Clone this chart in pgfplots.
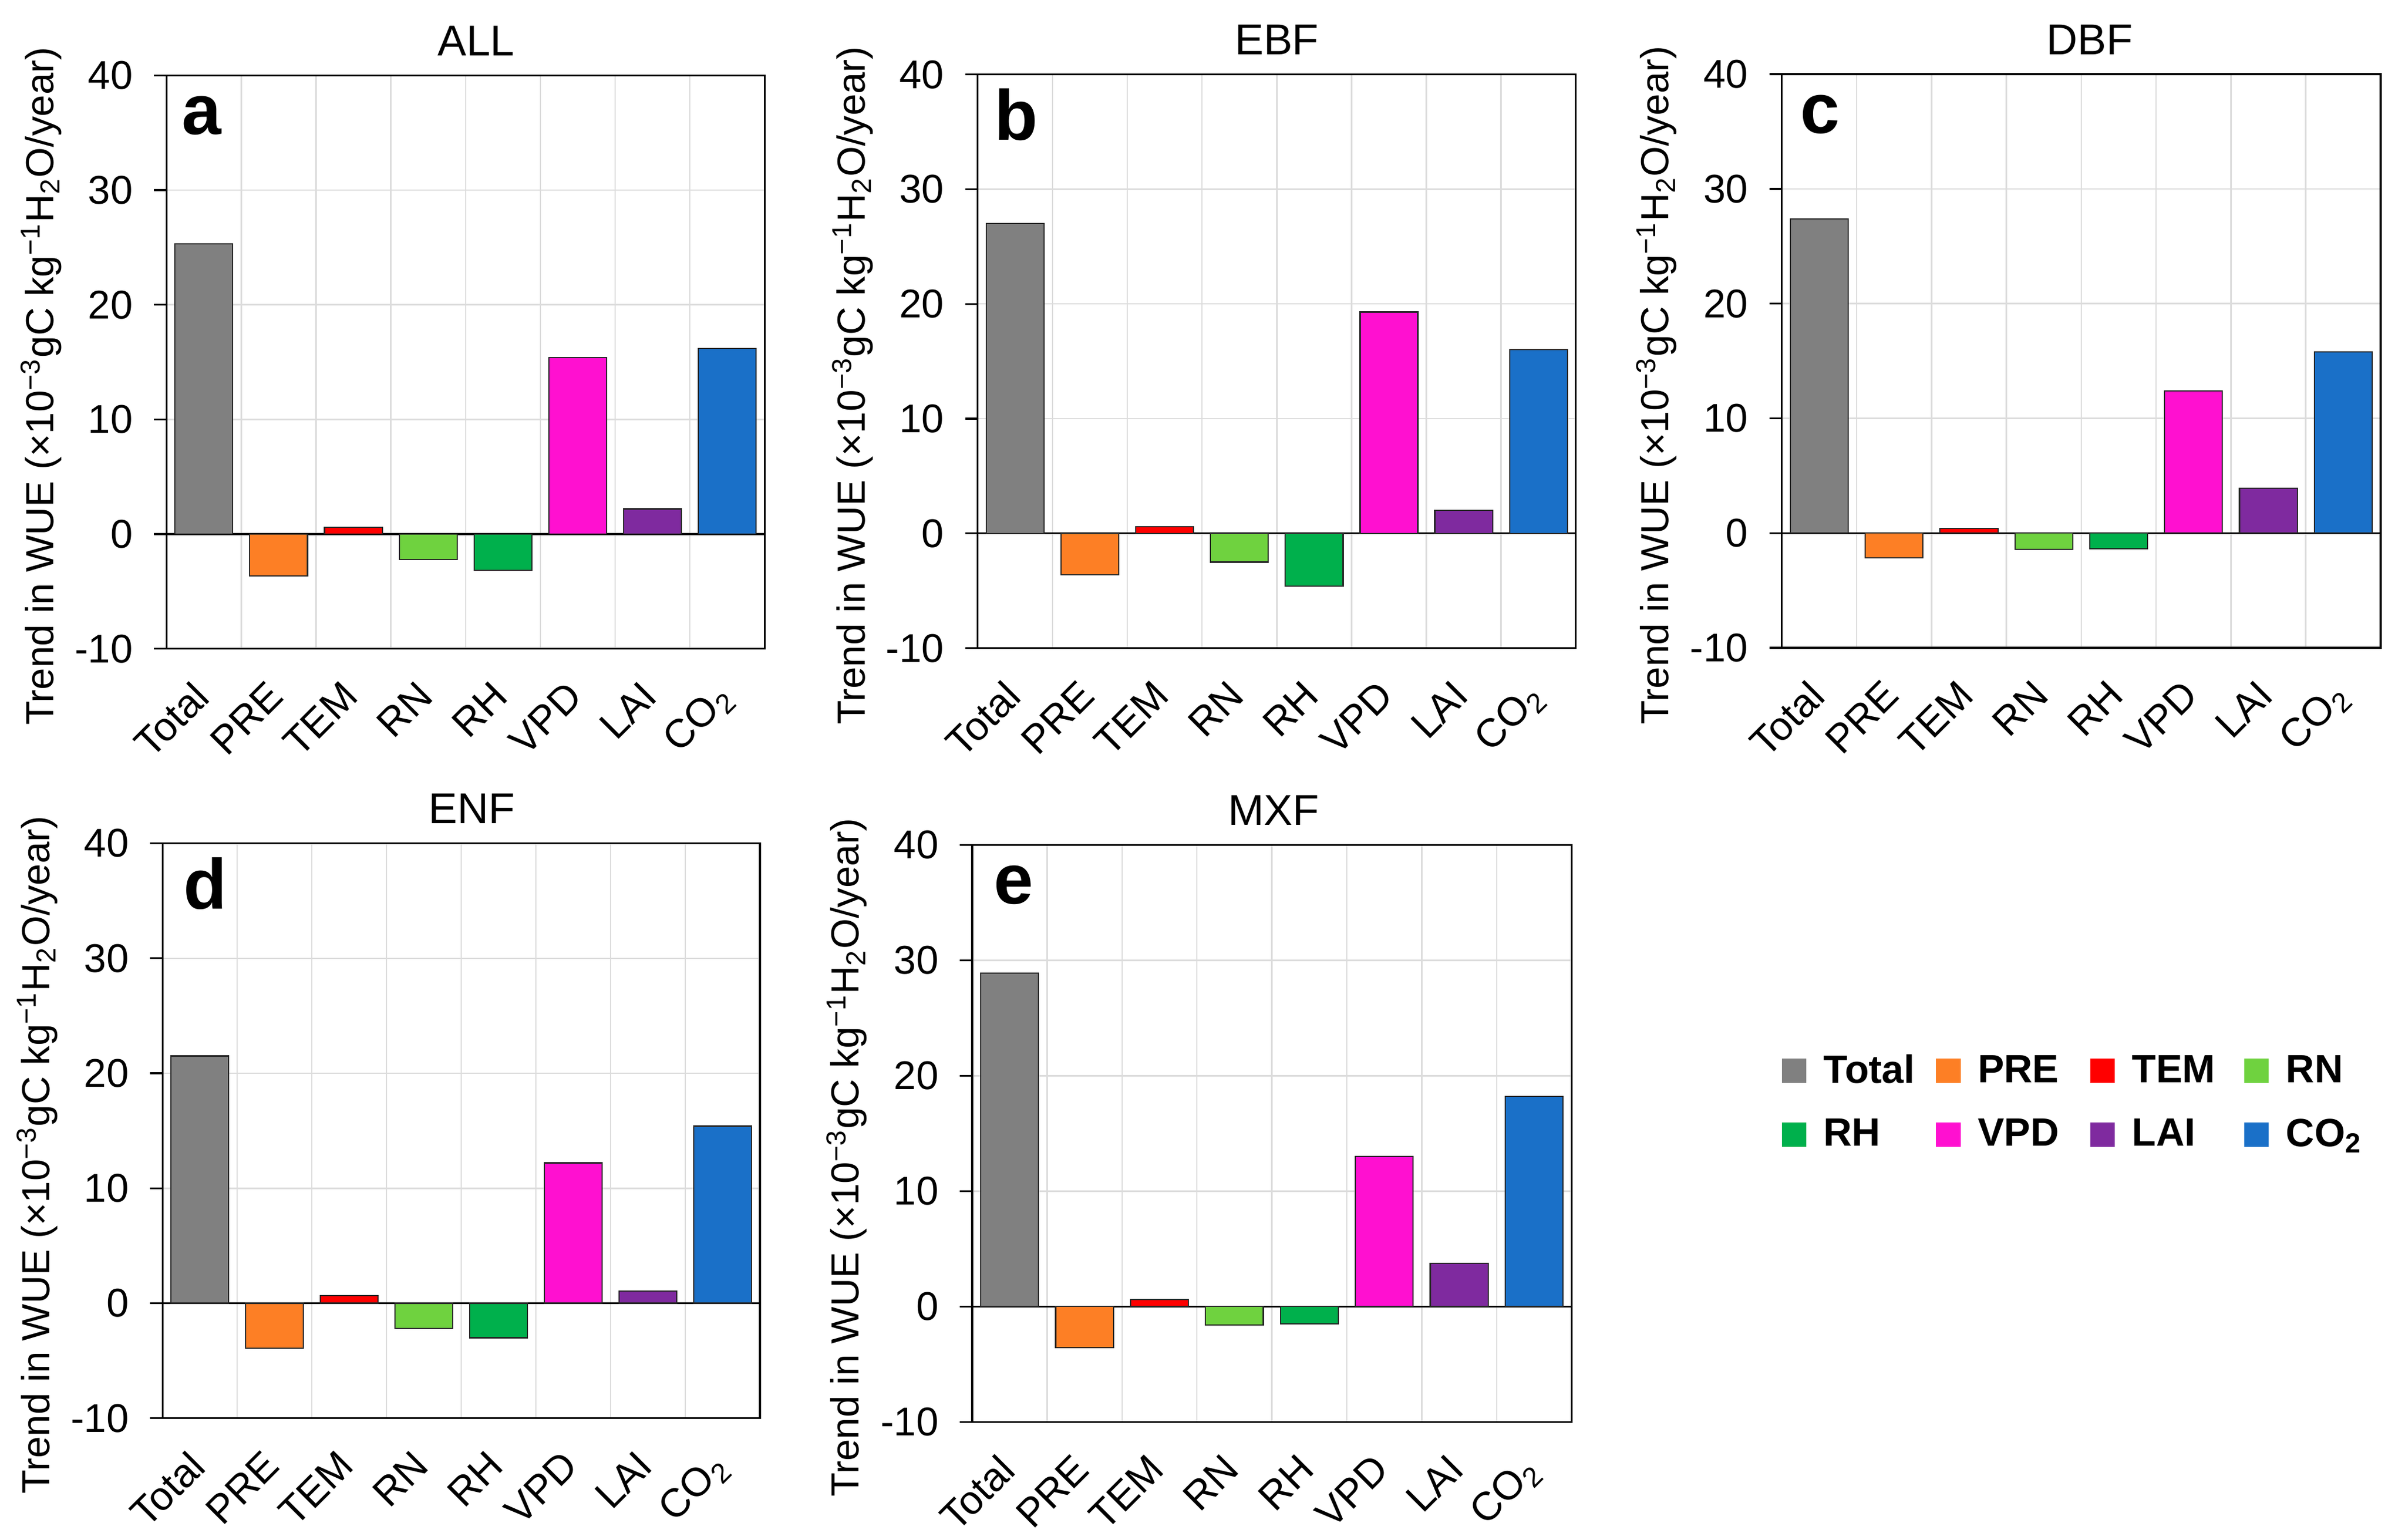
\documentclass[border=0pt]{standalone}
\usepackage{fontspec}
\setmainfont{Liberation Sans}
\usepackage{pgfplots}
\pgfplotsset{compat=1.18}

\definecolor{cTotal}{HTML}{808080}
\definecolor{cPRE}{HTML}{FD7F25}
\definecolor{cTEM}{HTML}{FF0000}
\definecolor{cRN}{HTML}{6FD23F}
\definecolor{cRH}{HTML}{00B04C}
\definecolor{cVPD}{HTML}{FF10D0}
\definecolor{cLAI}{HTML}{7F2A9F}
\definecolor{cCO}{HTML}{1A70C8}
\definecolor{gridgray}{HTML}{DCDCDC}

\pgfplotsset{
  panel/.style={
    scale only axis,
    xmin=-0.5, xmax=7.5, ymin=-10, ymax=40,
    xtick={0,...,7},
    xticklabels={Total,PRE,TEM,RN,RH,VPD,LAI,CO\textsubscript{2}},
    ytick={-10,0,10,20,30,40},
    minor xtick={0.5,1.5,...,6.5},
    xminorgrids, ymajorgrids,
    major grid style={draw=gridgray, line width=0.45pt},
    minor grid style={draw=gridgray, line width=0.45pt},
    extra y ticks={0}, extra y tick labels={},
    extra y tick style={major grid style={draw=black, line width=0.6pt}},
    tick align=outside,
    xtick pos=bottom, ytick pos=left,
    xtick style={draw=none},
    ytick style={draw=black, line width=0.6pt},
    major tick length=4pt,
    minor tick length=0pt,
    axis line style={line width=0.6pt},
    tick label style={font=\fontsize{13}{15}\selectfont},
    yticklabel style={xshift=-3.4pt},
    xticklabel style={xshift=-4.2pt, yshift=-4.2pt, rotate=45, anchor=north east, inner sep=1pt},
    ylabel={Trend in WUE (×10\textsuperscript{−3}gC kg\textsuperscript{−1}H\textsubscript{2}O/year)},
    ylabel style={font=\fontsize{12.7}{14}\selectfont, at={(axis description cs:-0.189,0.458)}, anchor=base},
    title style={font=\fontsize{14}{16}\selectfont, anchor=base, yshift=0.4pt},
    /pgf/number format/assume math mode=true,
  },
  barbase/.style={ybar, bar width=0.773, bar shift=0pt, draw=black!85, line width=0.4pt,
    legend image code/.code={\path[##1, draw=none] (0pt,-3.8pt) rectangle (7.9pt,4.1pt);}},
}

\newcommand{\bars}[8]{%
  \addplot[barbase, fill=cTotal] coordinates {(0,#1)};
  \addplot[barbase, fill=cPRE]   coordinates {(1,#2)};
  \addplot[barbase, fill=cTEM]   coordinates {(2,#3)};
  \addplot[barbase, fill=cRN]    coordinates {(3,#4)};
  \addplot[barbase, fill=cRH]    coordinates {(4,#5)};
  \addplot[barbase, fill=cVPD]   coordinates {(5,#6)};
  \addplot[barbase, fill=cLAI]   coordinates {(6,#7)};
  \addplot[barbase, fill=cCO]    coordinates {(7,#8)};
}
\newcommand{\plabel}[2]{\node[font=\bfseries\fontsize{23}{23}\selectfont, anchor=center, inner sep=0pt] at (rel axis cs:#1,0.93) {#2};}
\newcommand{\lent}[1]{\makebox[36.5pt][l]{#1}}

\begin{document}
\begin{tikzpicture}
\useasboundingbox (0,0) rectangle (780pt,499.57pt);

% a: ALL
\begin{axis}[panel, at={(54pt,289.1pt)}, anchor=south west, width=194pt, height=186pt,
  title={ALL}, title style={xshift=3.4pt}]
  \bars{25.3}{-3.65}{0.6}{-2.2}{-3.15}{15.4}{2.2}{16.2}
  \plabel{0.059}{a}
\end{axis}

% b: EBF
\begin{axis}[panel, at={(317.1pt,289.3pt)}, anchor=south west, width=194pt, height=186.1pt,
  title={EBF}]
  \bars{27.0}{-3.6}{0.6}{-2.5}{-4.6}{19.3}{2.0}{16.0}
  \plabel{0.064}{b}
\end{axis}

% c: DBF
\begin{axis}[panel, at={(577.9pt,289.4pt)}, anchor=south west, width=194.2pt, height=186.1pt,
  title={DBF}, title style={xshift=2.8pt}]
  \bars{27.4}{-2.15}{0.4}{-1.4}{-1.35}{12.4}{3.9}{15.8}
  \plabel{0.064}{c}
\end{axis}

% d: ENF
\begin{axis}[panel, at={(52.7pt,39.5pt)}, anchor=south west, width=193.8pt, height=186.5pt,
  title={ENF}, title style={xshift=3.4pt}]
  \bars{21.5}{-3.9}{0.65}{-2.2}{-3.0}{12.2}{1.05}{15.4}
  \plabel{0.072}{d}
\end{axis}

% e: MXF
\begin{axis}[panel, at={(315.3pt,38.3pt)}, anchor=south west, width=194.4pt, height=187.2pt,
  title={MXF}, title style={xshift=0.6pt},
  legend columns=4, legend cell align=left,
  legend style={at={(1.350,0.553)}, anchor=west, draw=none, fill=none, inner sep=0pt,
    font=\bfseries\fontsize{12.8}{15}\selectfont, nodes={inner sep=0pt},
    /tikz/every odd column/.append style={column sep=5.6pt},
    /tikz/row sep=10pt}]
  \bars{28.9}{-3.55}{0.6}{-1.6}{-1.5}{13.0}{3.75}{18.2}
  \plabel{0.069}{e}
  \legend{\lent{Total},\lent{PRE},\lent{TEM},\lent{RN},
          \lent{RH},\lent{VPD},\lent{LAI},\lent{CO\textsubscript{2}}}
\end{axis}
\end{tikzpicture}
\end{document}
